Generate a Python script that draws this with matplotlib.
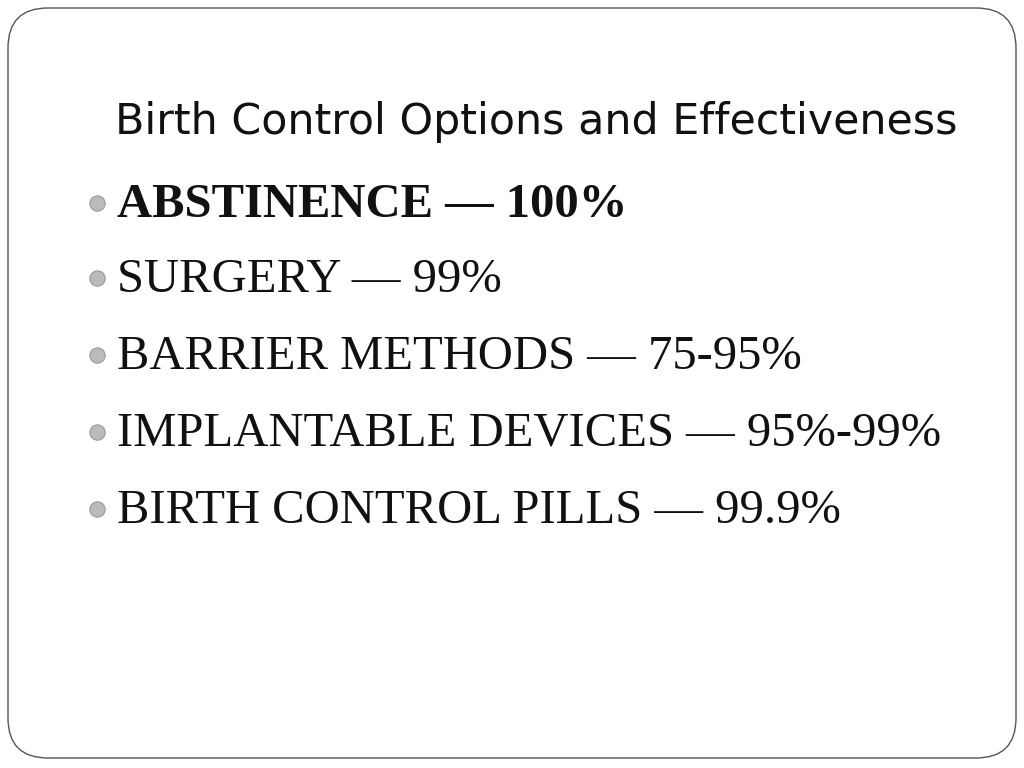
import matplotlib
matplotlib.use("Agg")
import matplotlib.pyplot as plt
from matplotlib.patches import FancyBboxPatch

title = "Birth Control Options and Effectiveness"
methods = ["ABSTINENCE", "SURGERY", "BARRIER METHODS", "IMPLANTABLE DEVICES", "BIRTH CONTROL PILLS"]
rates = ["100%", "99%", "75-95%", "95%-99%", "99.9%"]
bold = [True, False, False, False, False]

fig = plt.figure(figsize=(10.24, 7.68), dpi=100)
ax = fig.add_axes([0, 0, 1, 1])
ax.set_xlim(0, 1024)
ax.set_ylim(768, 0)
ax.axis("off")

ax.add_patch(FancyBboxPatch((8, 8), 1008, 750, boxstyle="round,pad=0,rounding_size=40",
                            fill=False, ec="#555555", lw=1))
ax.text(115, 122, title, fontsize=30.8, family="DejaVu Sans", va="center", ha="left", color="#111111")

ys = [217, 292, 369, 446, 523]
for y, m, r, b in zip(ys, methods, rates, bold):
    ax.plot(97, y - 14, "o", ms=11, color="#bbbbbb", mec="#999999", mew=0.8)
    ax.text(117, y, f"{m} \u2014 {r}", fontsize=35, family="Liberation Serif",
            fontweight="bold" if b else "normal", va="baseline", ha="left", color="#111111")

fig.savefig("out.png", dpi=100)
